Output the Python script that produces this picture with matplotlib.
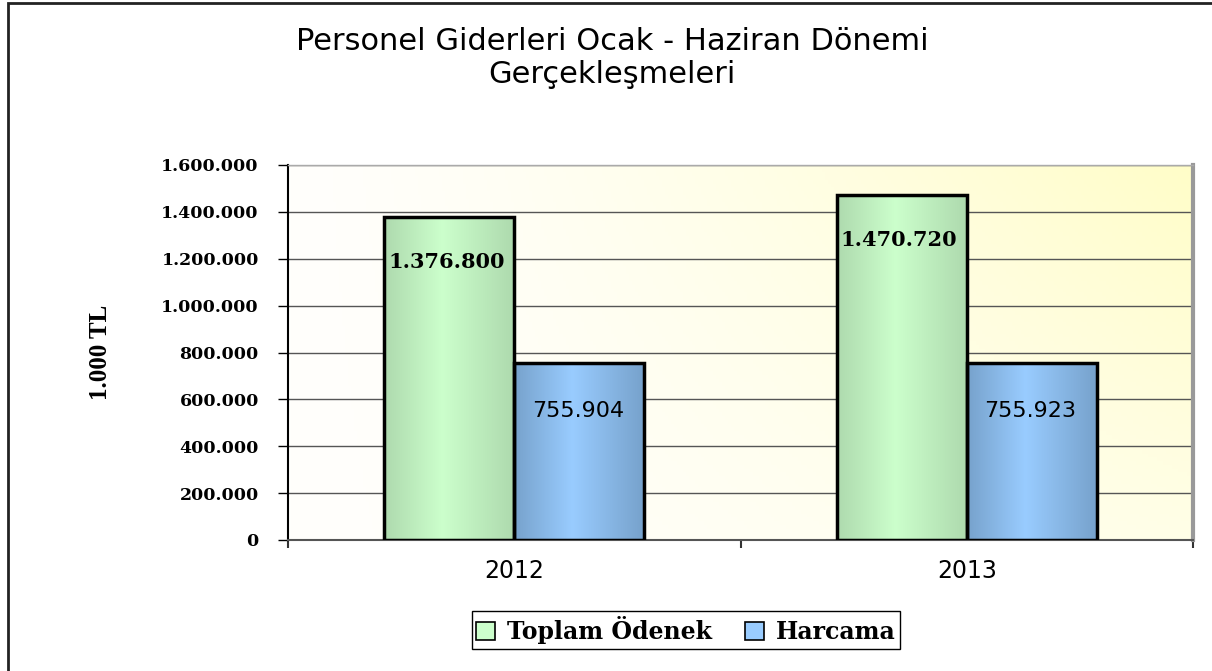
import numpy as np
import matplotlib as mpl
mpl.use('Agg')
import matplotlib.pyplot as plt
from matplotlib.patches import Rectangle, Patch
from matplotlib.colors import LinearSegmentedColormap

# data
years = ['2012', '2013']
toplam_odenek = [1376800, 1470720]
harcama = [755904, 755923]
series_names = ['Toplam Ödenek', 'Harcama']
yticks = [0, 200000, 400000, 600000, 800000, 1000000, 1200000, 1400000, 1600000]


def tr_fmt(v):
    return f'{v:,.0f}'.replace(',', '.')


fig = plt.figure(figsize=(12.12, 6.71), dpi=100)
ax = fig.add_axes([288 / 1212, 1 - 540 / 671, 905 / 1212, 375 / 671])

# background gradient: white at left, light yellow towards upper right
nx, ny = 300, 100
xf = np.linspace(0, 1, nx)[None, :]
yf = np.linspace(1, 0, ny)[:, None]
t = np.clip(xf ** 1.3 * (0.4 + 0.6 * yf), 0, 1)
white = np.array([255, 255, 252]) / 255
yellow = np.array([255, 253, 200]) / 255
bg = white * (1 - t[..., None]) + yellow * t[..., None]
ax.imshow(bg, extent=[0, 1, 0, 1], transform=ax.transAxes, aspect='auto', zorder=0)

x = np.arange(len(years))
w = 0.287
green_cmap = LinearSegmentedColormap.from_list('g', [(0, '#aedaae'), (0.45, '#ccffcc'), (1, '#aedaae')])
blue_cmap = LinearSegmentedColormap.from_list('b', [(0, '#77a2cc'), (0.45, '#99ccff'), (1, '#77a2cc')])
grad = np.linspace(0, 1, 200)[None, :]

bars1 = ax.bar(x - w / 2, toplam_odenek, w, facecolor='none', edgecolor='black', linewidth=2.5, zorder=3)
bars2 = ax.bar(x + w / 2, harcama, w, facecolor='none', edgecolor='black', linewidth=2.5, zorder=3)

for bars, cmap in [(bars1, green_cmap), (bars2, blue_cmap)]:
    for b in bars:
        x0 = b.get_x()
        h = b.get_height()
        im = ax.imshow(grad, extent=[x0, x0 + b.get_width(), 0, h], cmap=cmap,
                       aspect='auto', zorder=2)
        im.set_clip_path(b)

for b, v in zip(bars1, toplam_odenek):
    ax.annotate(tr_fmt(v), (b.get_x() + b.get_width() / 2, v), xytext=(-2, -32),
                textcoords='offset points', ha='center', va='center',
                fontsize=15, fontweight='bold', family='DejaVu Serif', zorder=4)
for b, v in zip(bars2, harcama):
    ax.annotate(tr_fmt(v), (b.get_x() + b.get_width() / 2, v), xytext=(-1, -35),
                textcoords='offset points', ha='center', va='center',
                fontsize=16, family='DejaVu Sans', zorder=4)

ax.set_xlim(-0.5, 1.5)
ax.set_ylim(0, 1600000)

ax.set_yticks(yticks)
ax.set_yticklabels([tr_fmt(v) for v in yticks], fontsize=12.5, fontweight='bold',
                   family='DejaVu Serif')
ax.set_xticks([-0.5, 0.5, 1.5])
ax.set_xticklabels([])
ax.set_xticks(x, minor=True)
ax.set_xticklabels(years, minor=True, fontsize=17, family='DejaVu Sans')
ax.tick_params(axis='x', which='minor', length=0, pad=14)
ax.tick_params(axis='x', which='major', length=6, width=1.5, color='#333333', direction='out')
ax.tick_params(axis='y', length=7, width=1, color='black', direction='out', pad=14)

ax.grid(axis='y', color='#555555', linewidth=1)
ax.set_axisbelow(True)

ax.spines['left'].set_color('black')
ax.spines['left'].set_linewidth(1.5)
ax.spines['bottom'].set_color('#555555')
ax.spines['bottom'].set_linewidth(1.5)
ax.spines['top'].set_color('#aaaaaa')
ax.spines['top'].set_linewidth(1)
ax.spines['right'].set_color('#999999')
ax.spines['right'].set_linewidth(3)

ax.set_ylabel('1.000 TL', fontsize=18, fontweight='bold', family='Liberation Serif')
ax.yaxis.set_label_coords(-0.194, 0.5)

fig.text(612 / 1212, 1 - 58 / 671, 'Personel Giderleri Ocak - Haziran Dönemi\nGerçekleşmeleri',
         ha='center', va='center', fontsize=22, family='DejaVu Sans', linespacing=1.15)

handles = [Patch(facecolor='#ccffcc', edgecolor='black', linewidth=1.2),
           Patch(facecolor='#99ccff', edgecolor='black', linewidth=1.2)]
leg = fig.legend(handles, series_names, loc='center', bbox_to_anchor=(686 / 1212, 1 - 630 / 671),
                 ncol=2, fancybox=False, edgecolor='black', framealpha=1,
                 handlelength=0.8, handleheight=0.8, handletextpad=0.5, columnspacing=1.4,
                 borderpad=0.2, borderaxespad=0,
                 prop={'family': 'DejaVu Serif', 'weight': 'bold', 'size': 17})
leg.get_frame().set_linewidth(1)

# outer chart frame
fig.add_artist(Rectangle((8 / 1212, -0.1), 1.2, 1 - 3 / 671 + 0.1, transform=fig.transFigure,
                         fill=False, edgecolor='#222222', linewidth=2))

plt.savefig('out.png', dpi=100)
